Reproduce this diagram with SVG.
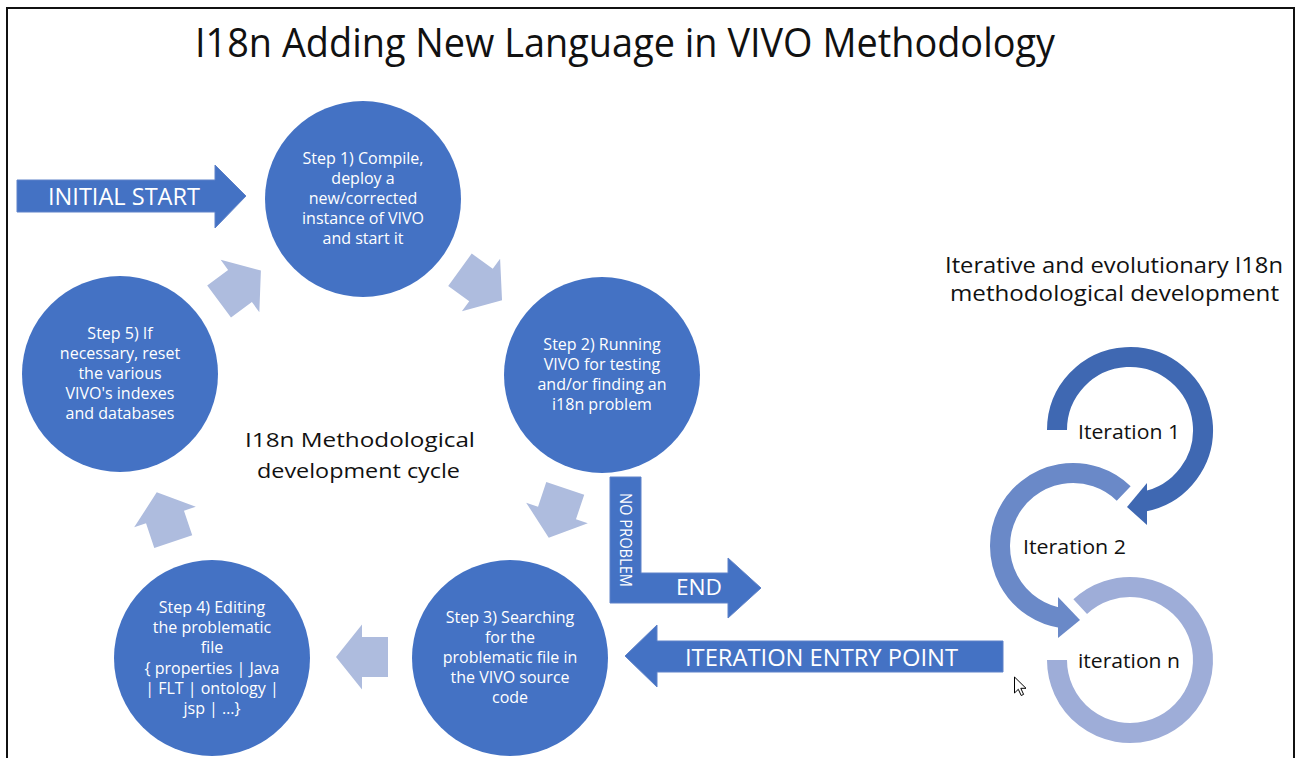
<svg xmlns="http://www.w3.org/2000/svg" width="1299" height="758" viewBox="0 0 1299 758">
<style>
  .step { fill: #4472C4; }
  .steptxt { font-family: "Open Sans", "Liberation Sans", sans-serif; font-size: 16px; fill: #FFFFFF; text-anchor: middle; }
  .cyc { fill: #AEBCDE; }
  .blk { fill: #4472C4; stroke: #5E82C9; stroke-width: 1; }
  .blktxt { font-family: "Open Sans", "Liberation Sans", sans-serif; fill: #FFFFFF; text-anchor: middle; }
  .lbl { font-family: "Open Sans", "Liberation Sans", sans-serif; fill: #111111; text-anchor: middle; }
  .ring { fill: none; stroke-width: 20; stroke-linecap: butt; }
</style>
<defs>
  <polygon id="cycArrow" points="-26,-20 0,-20 0,-32.5 26,0 0,32.5 0,20 -26,20"/>
</defs>
<rect x="0" y="0" width="1299" height="758" fill="#FFFFFF"/>
<path d="M7,760 V8 H1294 V760" fill="none" stroke="#111111" stroke-width="2"/>

<text class="lbl" x="625" y="57" font-size="39.5" textLength="860" lengthAdjust="spacingAndGlyphs">I18n Adding New Language in VIVO Methodology</text>

<g id="connectors">
  <use href="#cycArrow" class="cyc" transform="translate(240,286) rotate(-36.5)"/>
  <use href="#cycArrow" class="cyc" transform="translate(481,285) rotate(36)"/>
  <use href="#cycArrow" class="cyc" transform="translate(557,513) rotate(108.5)"/>
  <use href="#cycArrow" class="cyc" transform="translate(362,657) rotate(180)"/>
  <use href="#cycArrow" class="cyc" transform="translate(165,517) rotate(-108.5)"/>
</g>

<g id="initial-start">
  <polygon class="blk" points="17,180 215,180 215,165 246,196 215,228 215,212 17,212"/>
  <text class="blktxt" x="124" y="205" font-size="24" textLength="152" lengthAdjust="spacingAndGlyphs">INITIAL START</text>
</g>

<g id="step1">
  <circle class="step" cx="363" cy="199" r="98"/>
  <text class="steptxt" x="363" y="164">Step 1) Compile,</text>
  <text class="steptxt" x="363" y="184">deploy a</text>
  <text class="steptxt" x="363" y="204">new/corrected</text>
  <text class="steptxt" x="363" y="224">instance of VIVO</text>
  <text class="steptxt" x="363" y="244">and start it</text>
</g>

<g id="step2">
  <circle class="step" cx="602" cy="375" r="98"/>
  <text class="steptxt" x="602" y="350">Step 2) Running</text>
  <text class="steptxt" x="602" y="370">VIVO for testing</text>
  <text class="steptxt" x="602" y="390">and/or finding an</text>
  <text class="steptxt" x="602" y="410">i18n problem</text>
</g>

<g id="step3">
  <circle class="step" cx="510" cy="658" r="98"/>
  <text class="steptxt" x="510" y="623">Step 3) Searching</text>
  <text class="steptxt" x="510" y="643">for the</text>
  <text class="steptxt" x="510" y="663">problematic file in</text>
  <text class="steptxt" x="510" y="683">the VIVO source</text>
  <text class="steptxt" x="510" y="703">code</text>
</g>

<g id="step4">
  <circle class="step" cx="212" cy="658" r="98"/>
  <text class="steptxt" x="212" y="613">Step 4) Editing</text>
  <text class="steptxt" x="212" y="633">the problematic</text>
  <text class="steptxt" x="212" y="653">file</text>
  <text class="steptxt" x="212" y="674">{ properties | Java</text>
  <text class="steptxt" x="212" y="694">| FLT | ontology |</text>
  <text class="steptxt" x="212" y="714">jsp | …}</text>
</g>

<g id="step5">
  <circle class="step" cx="120" cy="374" r="98"/>
  <text class="steptxt" x="120" y="339">Step 5) If</text>
  <text class="steptxt" x="120" y="359">necessary, reset</text>
  <text class="steptxt" x="120" y="379">the various</text>
  <text class="steptxt" x="120" y="399">VIVO's indexes</text>
  <text class="steptxt" x="120" y="419">and databases</text>
</g>

<g id="cycle-label">
  <text class="lbl" x="360" y="447" font-size="20.5" textLength="230" lengthAdjust="spacingAndGlyphs">I18n Methodological</text>
  <text class="lbl" x="358.5" y="478" font-size="20.5" textLength="203" lengthAdjust="spacingAndGlyphs">development cycle</text>
</g>

<g id="no-problem-end">
  <polygon class="blk" points="610,477 641,477 641,573 728,573 728,558 761,588 728,618 728,603 610,603"/>
  <text class="blktxt" transform="translate(619.5,540) rotate(90)" x="0" y="0" font-size="16" textLength="94" lengthAdjust="spacingAndGlyphs">NO PROBLEM</text>
  <text class="blktxt" x="699" y="595" font-size="21" textLength="46" lengthAdjust="spacingAndGlyphs">END</text>
</g>

<g id="iteration-entry-point">
  <polygon class="blk" points="1003,641 657,641 657,625 625,656 657,687 657,672 1003,672"/>
  <text class="blktxt" x="821.5" y="666" font-size="23" textLength="273" lengthAdjust="spacingAndGlyphs">ITERATION ENTRY POINT</text>
</g>

<g id="iterative-label">
  <text class="lbl" x="1114" y="273" font-size="21" textLength="338" lengthAdjust="spacingAndGlyphs">Iterative and evolutionary I18n</text>
  <text class="lbl" x="1114.5" y="301" font-size="21" textLength="329" lengthAdjust="spacingAndGlyphs">methodological development</text>
</g>

<g id="iteration-n">
  <path class="ring" stroke="#9EADD8" d="M1080.2,606.6 A73,73 0 1 1 1057,660"/>
  <text class="lbl" x="1129" y="668" font-size="19.5" textLength="102" lengthAdjust="spacingAndGlyphs">iteration n</text>
</g>

<g id="iteration-2">
  <path class="ring" stroke="#6A89C8" d="M1123.7,493.5 A73,73 0 1 0 1062.8,618.3"/>
  <polygon fill="#6A89C8" points="1058,597 1080,620 1058,638"/>
  <text class="lbl" x="1074.5" y="554" font-size="19.5" textLength="103" lengthAdjust="spacingAndGlyphs">Iteration 2</text>
</g>

<g id="iteration-1">
  <path class="ring" stroke="#3F68B2" d="M1057,430 A73,73 0 1 1 1142.7,501.9"/>
  <polygon fill="#3F68B2" points="1147,483 1147,525 1127,507"/>
  <text class="lbl" x="1129" y="439" font-size="19.5" textLength="102" lengthAdjust="spacingAndGlyphs">Iteration 1</text>
</g>

<g id="cursor">
  <polygon points="1014.5,677 1014.5,693 1018.3,689.3 1021.2,695.5 1023.6,694.4 1020.8,688.3 1026,688.3" fill="#FFFFFF" stroke="#000000" stroke-width="1" stroke-linejoin="miter"/>
</g>
</svg>
